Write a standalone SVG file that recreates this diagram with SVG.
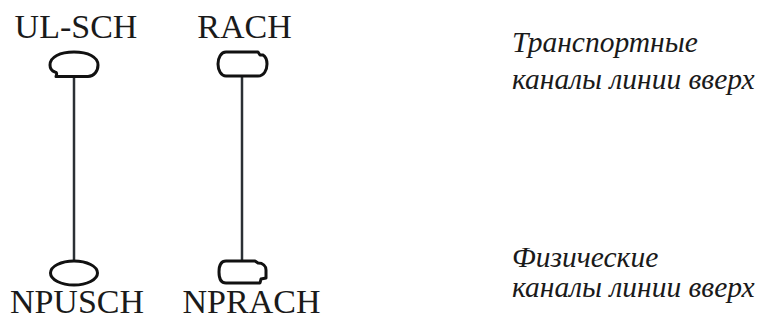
<svg xmlns="http://www.w3.org/2000/svg" width="757" height="320" viewBox="0 0 757 320">
<style>
.lbl{font-family:"Liberation Serif","Times New Roman",serif;font-size:34px;fill:#1a1a1a;text-anchor:middle}
.note{font-family:"Liberation Serif","Times New Roman",serif;font-size:29.5px;font-style:italic;fill:#1a1a1a}
.shape{fill:#fff;stroke:#111;stroke-width:3;stroke-linejoin:round}
.conn{stroke:#2b3035;stroke-width:2.5;fill:none}
</style>
<rect width="757" height="320" fill="#fff"/>
<g id="connectors">
<line class="conn" x1="74" y1="77" x2="74" y2="261"/>
<line class="conn" x1="242" y1="76" x2="242" y2="261"/>
</g>
<g id="ul-sch">
<text class="lbl" x="76" y="38">UL-SCH</text>
<path class="shape" d="M56,76.5 L88,76.5 C94,76.5 98,71 98,65 C98,57 88,52 74,52 C60,52 50,57 50,65 C50,69 52,71 55,72 C57,72 57,74 56,76.5 Z"/>
</g>
<g id="rach">
<text class="lbl" x="244.5" y="38">RACH</text>
<path class="shape" d="M226,52 L258,52 L260,55 L263,55 C266,57 267,60 267,64 C267,70 264,76 258,76 L226,76 C221,76 218,70 218,64 C218,58 221,52 226,52 Z"/>
</g>
<g id="npusch">
<ellipse class="shape" cx="74" cy="273" rx="23.5" ry="12"/>
<text class="lbl" x="77" y="313">NPUSCH</text>
</g>
<g id="nprach">
<path class="shape" d="M226,261 L255,261 L258,263 C263,263 266,266 266,270 L266,278 L261,279 L260,283 L226,283 C221,283 219,278 219,272 C219,266 221,261 226,261 Z"/>
<text class="lbl" x="251.5" y="313">NPRACH</text>
</g>
<g id="transport-label">
<text class="note" x="512" y="52">Транспортные</text>
<text class="note" x="512" y="89">каналы линии вверх</text>
</g>
<g id="physical-label">
<text class="note" x="512" y="267">Физические</text>
<text class="note" x="512" y="297">каналы линии вверх</text>
</g>
</svg>
